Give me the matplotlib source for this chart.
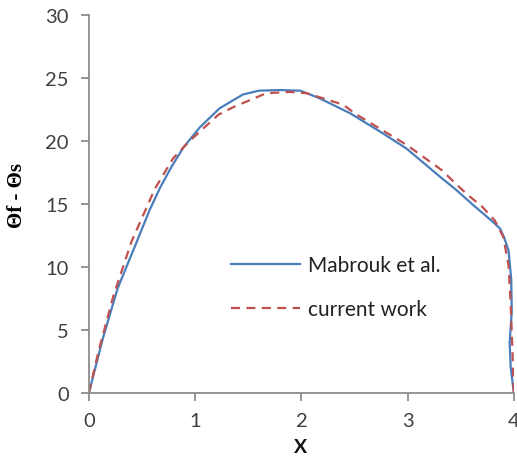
import matplotlib
matplotlib.use("Agg")
import matplotlib.pyplot as plt

# Mabrouk et al. reference profile
mabrouk_x = [0, 0.13, 0.27, 0.45, 0.57, 0.67, 0.78, 0.89, 1.045, 1.23, 1.45,
             1.60, 1.80, 1.99, 2.17, 2.46, 2.75, 2.99, 3.30, 3.46, 3.62, 3.80,
             3.87, 3.91, 3.95, 3.975, 3.98, 3.96, 3.97, 4.0]
mabrouk_y = [0, 4.3, 8.3, 12.0, 14.5, 16.3, 18.0, 19.5, 21.1, 22.6, 23.7,
             24.0, 24.05, 24.0, 23.4, 22.2, 20.7, 19.4, 17.2, 16.1, 14.9, 13.6,
             13.05, 12.3, 11.3, 9.0, 6.5, 4.0, 2.0, 0]

# Present computation
current_x = [0, 0.09, 0.23, 0.40, 0.62, 0.79, 0.935, 1.076, 1.22, 1.36, 1.67,
             1.89, 2.05, 2.39, 2.52, 2.99, 3.32, 3.43, 3.555, 3.70, 3.82, 3.90,
             3.95, 3.97, 3.98, 4.0]
current_y = [0, 3.3, 7.7, 12.0, 16.2, 18.6, 19.9, 21.0, 22.1, 22.7, 23.8,
             23.9, 23.8, 22.9, 22.1, 19.7, 17.7, 16.8, 15.8, 14.8, 13.7, 12.4,
             10.1, 7.0, 4.85, 0]

x_ticks = [0, 1, 2, 3, 4]
y_ticks = [0, 5, 10, 15, 20, 25, 30]

plt.rcParams["lines.scale_dashes"] = False
plt.rcParams["font.family"] = ["Lato", "DejaVu Sans"]

fig = plt.figure(figsize=(5.17, 4.6), dpi=100)
ax = fig.add_axes([0.172, 0.1435, 0.822, 0.8215])

ax.plot(mabrouk_x, mabrouk_y, color="#4A7EBB", lw=1.6, label="Mabrouk et al.")
ax.plot(current_x, current_y, color="#C0504D", lw=1.6, dashes=(6.5, 4.6),
        label="current work")

ax.set_xlim(0, 4)
ax.set_ylim(0, 30)
ax.set_xticks(x_ticks)
ax.set_yticks(y_ticks)

axis_gray = "#8C8C8C"
for side in ("top", "right"):
    ax.spines[side].set_visible(False)
for side in ("left", "bottom"):
    ax.spines[side].set_color(axis_gray)
    ax.spines[side].set_linewidth(1.3)
ax.tick_params(direction="out", length=5.5, width=1.3, color=axis_gray,
               labelsize=14.5, labelcolor="#404040")
ax.tick_params(axis="y", pad=9)
ax.tick_params(axis="x", pad=8)

fig.text(0.032, 0.575, "Θf - Θs", rotation=90, ha="center", va="center",
         fontsize=15, fontweight="bold", family=["Liberation Serif", "DejaVu Serif"])
fig.text(0.582, 0.028, "X", ha="center", va="center", fontsize=14,
         fontweight="bold", color="#111111")

leg = ax.legend(loc="upper left", bbox_to_anchor=(0.29, 0.415),
                frameon=False, fontsize=15, handlelength=3.3,
                labelspacing=1.16, handletextpad=0.4)
for t in leg.get_texts():
    t.set_color("#222222")

fig.savefig("out.png", dpi=100)
